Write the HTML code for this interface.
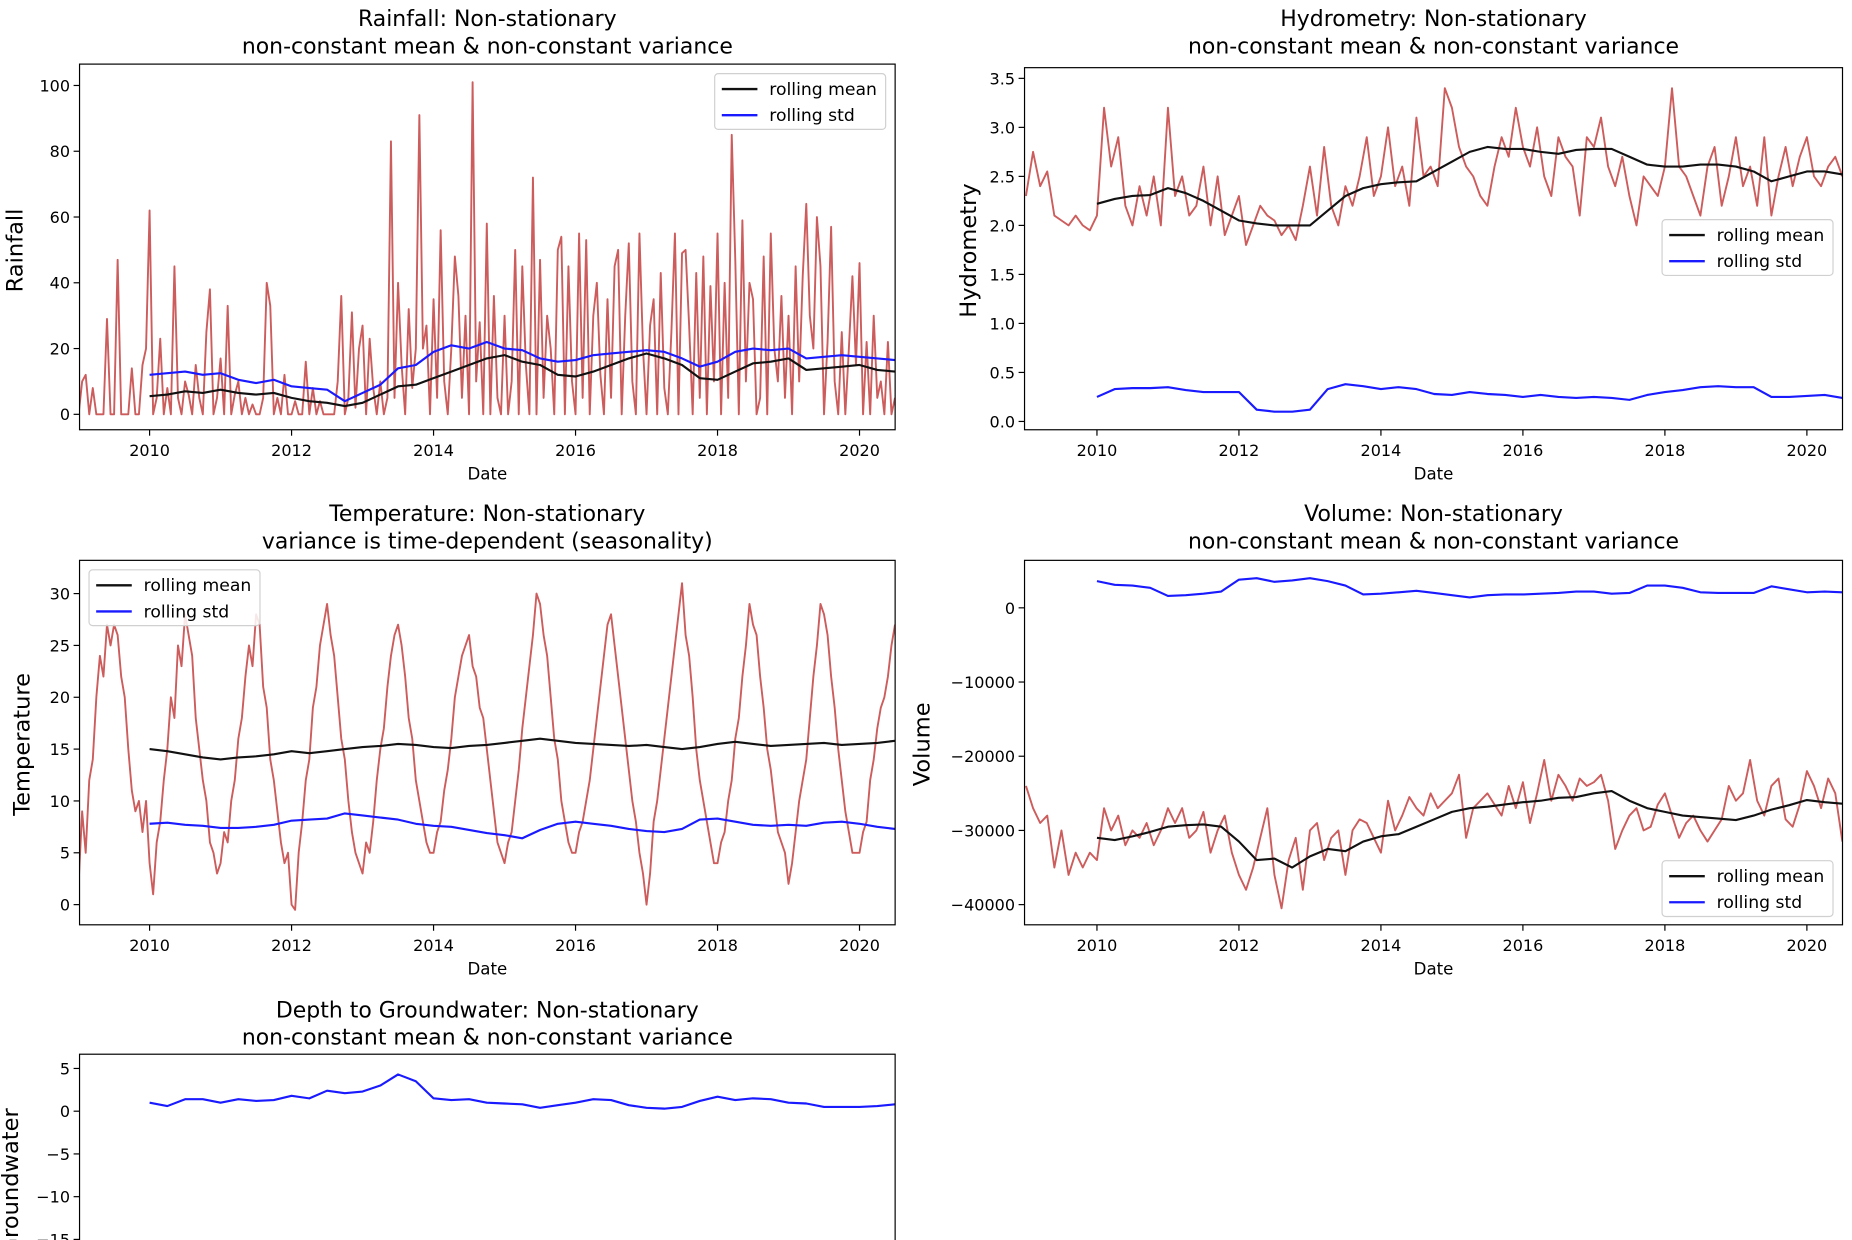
<!DOCTYPE html>
<html><head><meta charset="utf-8"><style>
html,body{margin:0;padding:0;background:#fff;overflow:hidden;width:1852px;height:1240px;}
svg{display:block;font-family:"DejaVu Sans","Liberation Sans",sans-serif;}
</style></head><body>
<svg id="fig" width="1852" height="1240" viewBox="0 0 1560 1044.5" preserveAspectRatio="none" xmlns="http://www.w3.org/2000/svg" style="overflow:hidden"></svg>
<script>
// ---- data ----
const rainRaw = [
0,10,12,0,8,0,0,0,29,0,0,47,0,0,0,14,0,0,15,20,
62,0,5,23,0,8,0,45,5,0,10,6,0,15,5,0,25,38,0,5,
17,0,33,0,6,10,0,5,0,3,0,0,5,40,33,0,5,0,12,0,
0,4,0,0,16,0,8,0,4,0,0,0,0,10,36,0,5,31,2,20,
27,0,23,8,0,10,0,5,83,5,40,15,0,32,8,20,91,20,27,0,
35,5,56,10,0,20,48,36,5,30,0,101,10,28,0,58,0,36,5,0,
30,0,10,50,0,45,15,0,72,0,47,5,30,20,0,50,54,0,45,10,
0,55,5,53,0,30,40,12,0,35,5,45,50,0,30,52,10,0,55,20,
0,27,35,0,43,8,0,25,55,0,49,50,27,0,43,5,48,0,39,10,
55,0,40,5,85,47,0,59,10,40,35,0,5,48,0,55,20,10,36,5,
30,0,45,10,42,64,30,20,60,45,0,22,57,10,0,25,0,20,42,15,
46,0,22,0,30,5,10,0,22,0,5];
const rainMean = [5.5,6,7,6.5,7.5,6.5,6,6.5,5,4,3.5,2.5,3.5,6,8.5,9,11,13,15,17,18,16,15,12,11.5,13,15,17,18.5,17,15,11,10.5,13,15.5,16,17,13.5,14,14.5,15,13.5,13];
const rainStd = [12,12.5,13,12,12.5,10.5,9.5,10.5,8.5,8,7.5,4,6.5,9,14,15,19,21,20,22,20,19.5,17,16,16.5,18,18.5,19,19.5,19,17,14.5,16,19,20,19.5,20,17,17.5,18,17.5,17,16.5];

const hydroRaw = [
2.3,2.75,2.4,2.55,2.1,2.05,2.0,2.1,2.0,1.95,
2.1,3.2,2.6,2.9,2.2,2.0,2.4,2.1,2.5,2.0,
3.2,2.3,2.5,2.1,2.2,2.6,2.0,2.5,1.9,2.1,
2.3,1.8,2.0,2.2,2.1,2.05,1.9,2.0,1.85,2.2,
2.6,2.1,2.8,2.2,2.0,2.4,2.2,2.5,2.9,2.3,
2.5,3.0,2.4,2.6,2.2,3.1,2.5,2.6,2.4,3.4,
3.2,2.8,2.6,2.5,2.3,2.2,2.6,2.9,2.7,3.2,
2.8,2.6,3.0,2.5,2.3,2.9,2.7,2.6,2.1,2.9,
2.8,3.1,2.6,2.4,2.7,2.3,2.0,2.5,2.4,2.3,
2.6,3.4,2.6,2.5,2.3,2.1,2.6,2.8,2.2,2.5,
2.9,2.4,2.6,2.2,2.9,2.1,2.5,2.8,2.4,2.7,
2.9,2.5,2.4,2.6,2.7,2.5];
const hydroMean = [2.22,2.27,2.3,2.31,2.38,2.33,2.25,2.15,2.05,2.02,2.0,2.0,2.0,2.15,2.3,2.38,2.42,2.44,2.45,2.55,2.65,2.75,2.8,2.78,2.78,2.75,2.73,2.77,2.78,2.78,2.7,2.62,2.6,2.6,2.62,2.62,2.6,2.55,2.45,2.5,2.55,2.55,2.52];
const hydroStd = [0.25,0.33,0.34,0.34,0.35,0.32,0.3,0.3,0.3,0.12,0.1,0.1,0.12,0.33,0.38,0.36,0.33,0.35,0.33,0.28,0.27,0.3,0.28,0.27,0.25,0.27,0.25,0.24,0.25,0.24,0.22,0.27,0.3,0.32,0.35,0.36,0.35,0.35,0.25,0.25,0.26,0.27,0.24];

const tempRaw = [
2,9,5,12,14,20,24,22,27,25,27,26,22,20,15,11,9,10,7,10,
4,1,6,8,12,15,20,18,25,23,28,26,24,18,15,12,10,6,5,3,
4,7,6,10,12,16,18,22,25,23,28,27,21,19,14,12,9,6,4,5,
0,-0.5,5,8,12,14,19,21,25,27,29,26,24,20,16,14,10,7,5,4,
3,6,5,8,12,15,17,21,24,26,27,25,22,18,16,12,10,8,6,5,
5,7,8,11,13,16,20,22,24,25,26,23,22,19,18,15,12,9,6,5,
4,6,7,10,13,17,20,23,26,30,29,26,24,20,16,14,10,8,6,5,
5,7,8,10,12,15,18,21,24,27,28,25,22,19,16,13,10,8,5,3,
0,3,8,10,13,16,19,22,25,28,31,26,24,20,15,12,10,8,6,4,
4,6,7,10,12,16,18,22,25,29,27,26,22,19,15,13,10,7,6,5,
2,4,7,10,12,14,18,22,25,29,28,26,22,19,15,12,9,7,5,5,
5,7,8,12,14,17,19,20,22,25,27];
const tempMean = [15,14.8,14.5,14.2,14,14.2,14.3,14.5,14.8,14.6,14.8,15,15.2,15.3,15.5,15.4,15.2,15.1,15.3,15.4,15.6,15.8,16,15.8,15.6,15.5,15.4,15.3,15.4,15.2,15,15.2,15.5,15.7,15.5,15.3,15.4,15.5,15.6,15.4,15.5,15.6,15.8];
const tempStd = [7.8,7.9,7.7,7.6,7.4,7.4,7.5,7.7,8.1,8.2,8.3,8.8,8.6,8.4,8.2,7.8,7.6,7.5,7.2,6.9,6.7,6.4,7.2,7.8,8.0,7.8,7.6,7.3,7.1,7.0,7.3,8.2,8.3,8.0,7.7,7.6,7.7,7.6,7.9,8.0,7.8,7.5,7.3];

const volRaw = [
-24000,-27000,-29000,-28000,-35000,-30000,-36000,-33000,-35000,-33000,
-34000,-27000,-30000,-28000,-32000,-30000,-31000,-29000,-32000,-30000,
-27000,-29000,-27000,-31000,-30000,-27500,-33000,-30000,-28000,-33000,
-36000,-38000,-35000,-31000,-27000,-36000,-40500,-34000,-31000,-38000,
-30000,-29000,-34000,-31000,-30000,-36000,-30000,-28500,-29000,-31000,
-33000,-26000,-30000,-28000,-25500,-27000,-28000,-25000,-27000,-26000,
-25000,-22500,-31000,-27000,-26000,-25000,-26500,-28000,-24000,-27000,
-23500,-29000,-25000,-20500,-26000,-22500,-24000,-26000,-23000,-24000,
-23500,-22500,-26000,-32500,-30000,-28000,-27000,-30000,-29500,-26500,
-25000,-28000,-31000,-29000,-28000,-30000,-31500,-30000,-28500,-24000,
-26000,-25000,-20500,-26000,-28000,-24000,-23000,-28500,-29500,-26500,
-22000,-24000,-27000,-23000,-25000,-31500];
const volMean = [-31000,-31300,-30800,-30200,-29500,-29300,-29200,-29500,-31500,-34000,-33800,-35000,-33500,-32500,-32800,-31500,-30800,-30500,-29500,-28500,-27500,-27000,-26800,-26500,-26200,-26000,-25600,-25500,-25000,-24700,-26000,-27000,-27500,-28000,-28200,-28400,-28600,-28000,-27200,-26600,-25900,-26200,-26400];
const volStd = [3600,3100,3000,2700,1600,1700,1900,2200,3800,4000,3500,3700,4000,3600,3000,1800,1900,2100,2300,2000,1700,1400,1700,1800,1800,1900,2000,2200,2200,1900,2000,3000,3000,2700,2100,2000,2000,2000,2900,2500,2100,2200,2100];

const depthStd = [1.0,0.6,1.4,1.4,1.0,1.4,1.2,1.3,1.8,1.5,2.4,2.1,2.3,3.0,4.3,3.5,1.5,1.3,1.4,1.0,0.9,0.8,0.4,0.7,1.0,1.4,1.3,0.7,0.4,0.3,0.5,1.2,1.7,1.3,1.5,1.4,1.0,0.9,0.5,0.5,0.5,0.6,0.8];

const xTicks = [2010,2012,2014,2016,2018,2020];
const rainTicks = [0,20,40,60,80,100];
const hydroTicks = [0,0.5,1,1.5,2,2.5,3,3.5];
const tempTicks = [0,5,10,15,20,25,30];
const volTicks = [0,-10000,-20000,-30000,-40000];
const depthTicks = [5,0,-5,-10,-15];

// ---- drawing ----
const NS = "http://www.w3.org/2000/svg";
const svg = document.getElementById('fig');
function mk(tag, attrs, parent){
  const e = document.createElementNS(NS, tag);
  for (const k in attrs) e.setAttribute(k, attrs[k]);
  (parent||svg).appendChild(e);
  return e;
}
let clipN = 0;
function panel(cfg){
  const g = mk('g', {});
  
  
  const L=cfg.left, R=cfg.right, T=cfg.top, B=cfg.bottom;
  const xs = y => cfg.x2010 + (y-2010)*59.8;
  const ys = v => cfg.yA + (v-cfg.vA)*(cfg.yB-cfg.yA)/(cfg.vB-cfg.vA);
  const t1 = mk('text', {x:(L+R)/2, y:cfg.titleY, 'text-anchor':'middle', 'font-size':18.5, fill:'#000'}, g);
  t1.textContent = cfg.title1;
  
  
  const t2 = mk('text', {x:(L+R)/2, y:cfg.titleY+23, 'text-anchor':'middle', 'font-size':18.5, fill:'#000'}, g);
  t2.textContent = cfg.title2;
  
  
  const id = 'c' + (clipN++);
  const cp = mk('clipPath', {id:id}, g);
  mk('rect', {x:L, y:T, width:R-L, height:B-T}, cp);
  const plot = mk('g', {'clip-path':'url(#'+id+')'}, g);
  function line(arr, start, step, color, w, nm){
    let d = '';
    arr.forEach((v,i)=>{ d += (i?'L':'M') + xs(start+i*step).toFixed(2) + ',' + ys(v).toFixed(2); });
    const p = mk('path', {d:d, fill:'none', stroke:color, 'stroke-width':w, 'stroke-linejoin':'round'}, plot);
    
    
  }
  if (cfg.raw) line(cfg.raw, 2009, cfg.rawStep, '#cd5c5c', 1.6, cfg.name + '-original-series');
  if (cfg.mean) line(cfg.mean, 2010, 0.25, '#111', 1.8, cfg.name + '-rolling-mean');
  if (cfg.std) line(cfg.std, 2010, 0.25, '#1a1aff', 1.8, cfg.name + '-rolling-std');
  const fr = mk('rect', {x:L, y:T, width:R-L, height:B-T, fill:'none', stroke:'#000', 'stroke-width':1}, g);
  
  
  cfg.yTicks.forEach(v=>{
    const y = ys(v);
    if (y < T-1 || y > 1052) return;
    mk('line', {x1:L-5, x2:L, y1:y, y2:y, stroke:'#000', 'stroke-width':1}, g);
    const tx = mk('text', {x:L-8, y:y+5, 'text-anchor':'end', 'font-size':13.5, fill:'#000'}, g);
    tx.textContent = (cfg.decimals ? v.toFixed(cfg.decimals) : String(v)).replace('-', '\u2212');
    
    
  });
  if (B < 1040){
    xTicks.forEach(yr=>{
      const x = xs(yr);
      mk('line', {x1:x, x2:x, y1:B, y2:B+5, stroke:'#000', 'stroke-width':1}, g);
      const tx = mk('text', {x:x, y:B+22, 'text-anchor':'middle', 'font-size':13.5, fill:'#000'}, g);
      tx.textContent = yr;
      
      
    });
    const xl = mk('text', {x:(L+R)/2, y:B+42, 'text-anchor':'middle', 'font-size':14, fill:'#000'}, g);
    xl.textContent = 'Date';
    
    
  }
  const yl = mk('text', {x:cfg.ylx, y:cfg.yly, 'text-anchor':'middle', 'font-size':19, fill:'#000', transform:'rotate(-90 '+cfg.ylx+' '+cfg.yly+')'}, g);
  yl.textContent = cfg.ylabel;
  
  
  if (cfg.legend){
    const [lx, ly] = cfg.legend;
    const lg = mk('g', {}, g);
    
    
    mk('rect', {x:lx, y:ly, width:144, height:47, rx:3, fill:'#fff', 'fill-opacity':0.85, stroke:'#d0d0d0'}, lg);
    [['rolling mean','#111'],['rolling std','#1a1aff']].forEach((e,i)=>{
      const yy = ly + 13 + i*22;
      mk('line', {x1:lx+6, x2:lx+36, y1:yy, y2:yy, stroke:e[1], 'stroke-width':2}, lg);
      const tx = mk('text', {x:lx+46, y:yy+5, 'font-size':14.5, fill:'#000'}, lg);
      tx.textContent = e[0];
      
      
    });
  }
}

panel({name:'rainfall', left:67, right:754, top:54, bottom:362, x2010:126, yA:349, vA:0, yB:72, vB:100, titleY:22,
  title1:'Rainfall: Non-stationary', title2:'non-constant mean & non-constant variance',
  raw:rainRaw, rawStep:0.05, mean:rainMean, std:rainStd, yTicks:rainTicks, ylabel:'Rainfall', ylx:19, yly:211, legend:[602,62]});
panel({name:'hydrometry', left:863, right:1552, top:57, bottom:362, x2010:924, yA:355, vA:0, yB:66, vB:3.5, titleY:22, decimals:1,
  title1:'Hydrometry: Non-stationary', title2:'non-constant mean & non-constant variance',
  raw:hydroRaw, rawStep:0.1, mean:hydroMean, std:hydroStd, yTicks:hydroTicks, ylabel:'Hydrometry', ylx:822, yly:211, legend:[1400,185]});
panel({name:'temperature', left:67, right:754, top:472, bottom:779, x2010:126, yA:762, vA:0, yB:500, vB:30, titleY:439,
  title1:'Temperature: Non-stationary', title2:'variance is time-dependent (seasonality)',
  raw:tempRaw, rawStep:0.05, mean:tempMean, std:tempStd, yTicks:tempTicks, ylabel:'Temperature', ylx:25, yly:627, legend:[75,480]});
panel({name:'volume', left:863, right:1552, top:472, bottom:779, x2010:924, yA:512, vA:0, yB:762, vB:-40000, titleY:439,
  title1:'Volume: Non-stationary', title2:'non-constant mean & non-constant variance',
  raw:volRaw, rawStep:0.1, mean:volMean, std:volStd, yTicks:volTicks, ylabel:'Volume', ylx:783, yly:627, legend:[1400,725]});
panel({name:'depth-to-groundwater', left:67, right:754, top:888, bottom:1100, x2010:126, yA:936, vA:0, yB:900, vB:5, titleY:857,
  title1:'Depth to Groundwater: Non-stationary', title2:'non-constant mean & non-constant variance',
  std:depthStd, yTicks:depthTicks, ylabel:'Depth to Groundwater', ylx:15, yly:1040});
</script>
</body></html>
